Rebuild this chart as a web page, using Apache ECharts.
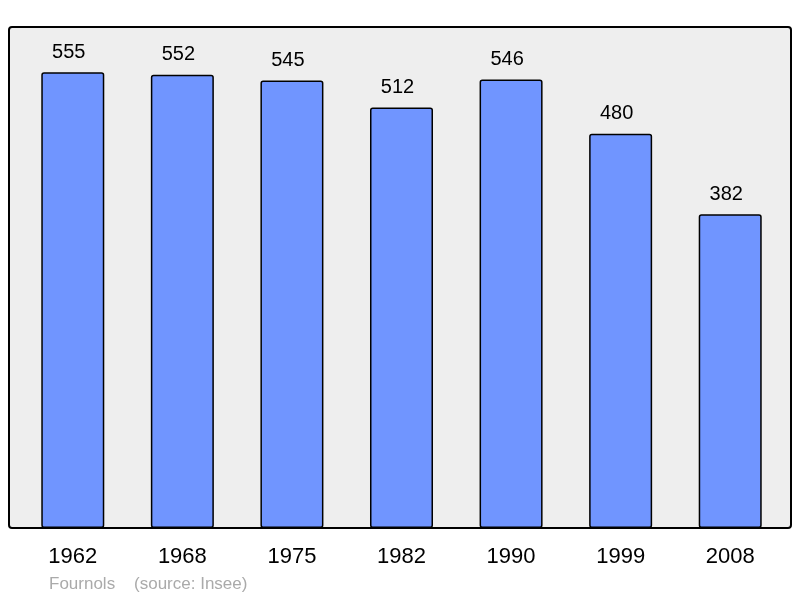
<!DOCTYPE html>
<html>
<head>
<meta charset="utf-8">
<script src="https://cdn.jsdelivr.net/npm/echarts@6/dist/echarts.min.js"></script>
<style>
  html, body { margin: 0; padding: 0; background: #fff; }
  #chart { width: 800px; height: 598px; }
</style>
</head>
<body>
<div id="chart"></div>
<script>
const years = ['1962', '1968', '1975', '1982', '1990', '1999', '2008'];
const population = [555, 552, 545, 512, 546, 480, 382];

const chart = echarts.init(document.getElementById('chart'));

const option = {
  animation: false,
  textStyle: { fontFamily: 'Liberation Sans, Arial, sans-serif' },
  graphic: [
    { // cadre gris
      type: 'rect',
      z: -10,
      shape: { x: 9, y: 27, width: 782, height: 501, r: 3 },
      style: { fill: '#eeeeee', stroke: '#000', lineWidth: 2 },
    },
    {
      type: 'text',
      left: 49,
      top: 576,
      style: {
        text: 'Fournols    (source: Insee)',
        fill: '#aaaaaa',
        font: '17px Liberation Sans, Arial, sans-serif',
      },
    },
  ],
  grid: { left: 18, right: 15, top: 27, bottom: 70 },
  xAxis: {
    type: 'category',
    data: years,
    axisLine: { show: false },
    axisTick: { show: false },
    axisLabel: { color: '#000', fontSize: 22, margin: 18 },
  },
  yAxis: {
    type: 'value',
    min: 0,
    max: 610,
    show: false,
    splitLine: { show: false },
  },
  series: [{
    type: 'bar',
    data: population,
    barWidth: '57.5%',
    itemStyle: {
      color: '#7095ff',
      borderColor: '#000',
      borderWidth: 1.5,
      borderRadius: 2,
    },
    label: {
      show: true,
      position: 'top',
      distance: 10,
      offset: [-4, 0],
      color: '#000',
      fontSize: 20,
    },
  }],
};

chart.setOption(option);
</script>
</body>
</html>
